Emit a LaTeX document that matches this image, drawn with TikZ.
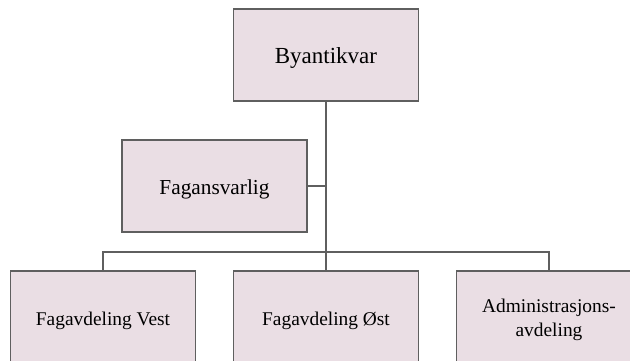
\documentclass[tikz,border=0pt]{standalone}
\usepackage{fontspec}
\setmainfont{Liberation Serif}
\usepackage{tikz}

\definecolor{boxfill}{RGB}{234,222,228}
\definecolor{boxline}{RGB}{95,95,95}

\begin{document}
\begin{tikzpicture}[x=1pt,y=1pt,node distance=2cm]
    \tikzstyle{every node}=[shape=rectangle,minimum width=185pt,minimum height=92pt,inner sep=0pt];
    \tikzstyle{unit}=[draw=boxline,fill=boxfill,line width=1.2pt,font=\fontsize{19.4}{24}\selectfont,align=center,text depth=0pt,text height=16pt];
    \tikzstyle{link}=[draw=boxline,line width=1.2pt];

    \useasboundingbox (0,0) rectangle (630,-360);
    \clip (0,0) rectangle (630,-360);

    \node[unit,font=\fontsize{23}{27}\selectfont,text height=17pt] (byant) at (326,-55) {Byantikvar};
    \node[unit,font=\fontsize{21.3}{25}\selectfont] (fagans) at (214.5,-186) {Fagansvarlig};

    \node[unit] (ost) [below of=byant,node distance=262pt] {Fagavdeling Øst};
    \node[unit] (vest) [left of=ost,node distance=223pt] {Fagavdeling Vest};
    \node[unit,text height=39pt] (admin) [right of=ost,node distance=223pt] {Administrasjons-\\avdeling};

    \coordinate (bus) at (326,-252);

    \draw[link] (byant) -- (ost);
    \draw[link] (fagans) -- (fagans -| byant);
    \draw[link] (vest.north) |- (bus) -| (admin.north);
\end{tikzpicture}
\end{document}
